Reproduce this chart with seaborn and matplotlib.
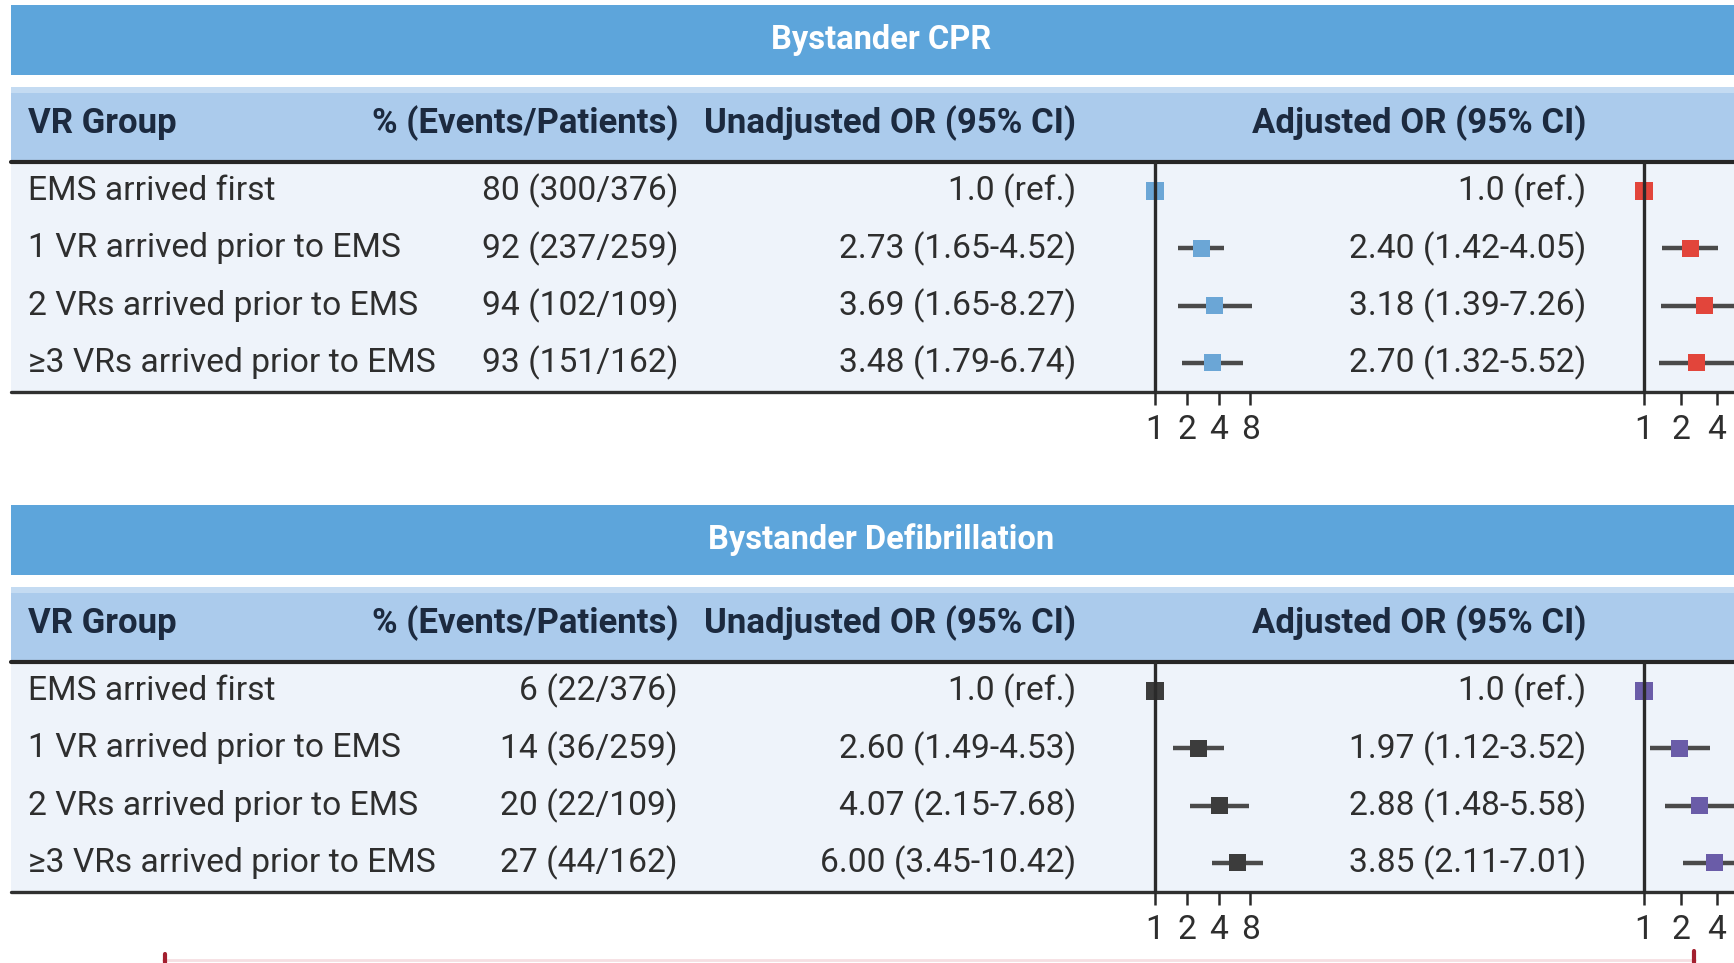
import numpy as np
import pandas as pd
import seaborn as sns
import matplotlib
matplotlib.use("Agg")
import matplotlib.pyplot as plt
from matplotlib.patches import Rectangle

# ---- data ----
groups = ["EMS arrived first", "1 VR arrived prior to EMS",
          "2 VRs arrived prior to EMS", "\u22653 VRs arrived prior to EMS"]

cpr_pct = ["80 (300/376)", "92 (237/259)", "94 (102/109)", "93 (151/162)"]
cpr_unadj_or = [1.0, 2.73, 3.69, 3.48]
cpr_unadj_lo = [1.0, 1.65, 1.65, 1.79]
cpr_unadj_hi = [1.0, 4.52, 8.27, 6.74]
cpr_adj_or = [1.0, 2.40, 3.18, 2.70]
cpr_adj_lo = [1.0, 1.42, 1.39, 1.32]
cpr_adj_hi = [1.0, 4.05, 7.26, 5.52]

defib_pct = ["6 (22/376)", "14 (36/259)", "20 (22/109)", "27 (44/162)"]
defib_unadj_or = [1.0, 2.60, 4.07, 6.00]
defib_unadj_lo = [1.0, 1.49, 2.15, 3.45]
defib_unadj_hi = [1.0, 4.53, 7.68, 10.42]
defib_adj_or = [1.0, 1.97, 2.88, 3.85]
defib_adj_lo = [1.0, 1.12, 1.48, 2.11]
defib_adj_hi = [1.0, 3.52, 5.58, 7.01]

headers = ["VR Group", "% (Events/Patients)", "Unadjusted OR (95% CI)", "Adjusted OR (95% CI)"]
titles = ["Bystander CPR", "Bystander Defibrillation"]
or_ticks = [1, 2, 4, 8]

sections = [
    dict(title=titles[0], pct=cpr_pct,
         unadj=(cpr_unadj_or, cpr_unadj_lo, cpr_unadj_hi),
         adj=(cpr_adj_or, cpr_adj_lo, cpr_adj_hi),
         c_unadj="#6ba6d6", c_adj="#e2453b"),
    dict(title=titles[1], pct=defib_pct,
         unadj=(defib_unadj_or, defib_unadj_lo, defib_unadj_hi),
         adj=(defib_adj_or, defib_adj_lo, defib_adj_hi),
         c_unadj="#3c3c3c", c_adj="#6a5ca8"),
]

sns.set_style("white")
plt.rcParams['font.family'] = ['Roboto', 'DejaVu Sans']

W, H = 1734, 963
FS = 24.2      # body rows
FS_HDR = 25    # column headers
FS_TTL = 23.5  # banner titles
TXT = "#2e2e2e"
HDR = "#1c2a3f"

fig = plt.figure(figsize=(W / 100, H / 100), dpi=100)
bg = fig.add_axes([0, 0, 1, 1])
bg.set_xlim(0, W)
bg.set_ylim(H, 0)
bg.axis("off")


def fmt_or(v, lo, hi):
    if v == 1.0 and lo == 1.0 and hi == 1.0:
        return "1.0 (ref.)"
    return "%.2f (%.2f-%.2f)" % (v, lo, hi)


def forest(x_one, k, xl, xr, y0, vals, color):
    # axes placed in pixel space, log2 scale with k px per doubling
    top, bottom = y0 + 157, y0 + 387
    ax = fig.add_axes([xl / W, 1 - bottom / H, (xr - xl) / W, (bottom - top) / H])
    ax.patch.set_alpha(0)
    ax.set_xscale("log", base=2)
    df = pd.DataFrame({"row": np.arange(4), "or": vals[0], "lo": vals[1], "hi": vals[2]})
    ax.hlines(df["row"], df["lo"], df["hi"], color="#4a4a4a", lw=3.2, zorder=2)
    sns.scatterplot(data=df, x="or", y="row", marker="s", s=150, color=color,
                    edgecolor="none", legend=False, ax=ax, zorder=3)
    ax.axvline(1, color="#2a2a2a", lw=2.4, zorder=4)
    for sp in ax.spines.values():
        sp.set_visible(False)
    ax.set_xticks(or_ticks)
    ax.set_xticklabels([str(t) for t in or_ticks])
    ax.xaxis.set_minor_locator(matplotlib.ticker.NullLocator())
    ax.tick_params(axis="x", bottom=True, length=9, width=1.8, color="#2a2a2a",
                   pad=7, labelsize=FS, labelcolor=TXT)
    ax.set_yticks([])
    ax.set_xlabel("")
    ax.set_ylabel("")
    # limits last, set_xticks would widen them
    ax.set_xlim(2 ** ((xl - x_one) / k), 2 ** ((xr - x_one) / k))
    ax.set_ylim((bottom - (y0 + 186)) / 57.3, (top - (y0 + 186)) / 57.3)


for si, sec in enumerate(sections):
    y0 = 5 + 500 * si
    # banner
    bg.add_patch(Rectangle((11, y0), W, 70, color="#5da5db", lw=0))
    bg.text(881, y0 + 35, sec["title"], color="white", fontsize=FS_TTL, fontweight="bold",
            ha="center", va="center")
    # header band
    bg.add_patch(Rectangle((11, y0 + 82), W, 74, color="#abcbec", lw=0))
    bg.add_patch(Rectangle((11, y0 + 82), W, 6, color="#c4dbf2", lw=0))
    # body
    bg.add_patch(Rectangle((11, y0 + 158), W, 229, color="#eef3fa", lw=0))
    bg.plot([11, W], [y0 + 157, y0 + 157], color="#262626", lw=3)
    bg.plot([11, W], [y0 + 387, y0 + 387], color="#303030", lw=2.4)

    hy = y0 + 118
    for txt, x, ha in zip(headers, [28, 678, 1076, 1586], ["left", "right", "right", "right"]):
        bg.text(x, hy, txt, ha=ha, va="center", fontsize=FS_HDR, fontweight="bold", color=HDR)

    for i in range(4):
        ry = y0 + 186 + 57.3 * i
        bg.text(28, ry, groups[i], ha="left", va="center", fontsize=FS, color=TXT)
        bg.text(678, ry, sec["pct"][i], ha="right", va="center", fontsize=FS, color=TXT)
        u = [v[i] for v in sec["unadj"]]
        a = [v[i] for v in sec["adj"]]
        bg.text(1076, ry, fmt_or(*u), ha="right", va="center", fontsize=FS, color=TXT)
        bg.text(1586, ry, fmt_or(*a), ha="right", va="center", fontsize=FS, color=TXT)

    forest(1155, 31.8, 1130, 1300, y0, sec["unadj"], sec["c_unadj"])
    forest(1644, 36.5, 1620, W, y0, sec["adj"], sec["c_adj"])

# thin cropped rule at the very bottom
bg.plot([163, 1695], [960, 960], color="#f6dfe2", lw=2)
bg.plot([165, 165], [954, 963], color="#a3202f", lw=3)
bg.plot([1694, 1694], [951, 963], color="#a3202f", lw=3)

fig.savefig("out.png", dpi=100)
